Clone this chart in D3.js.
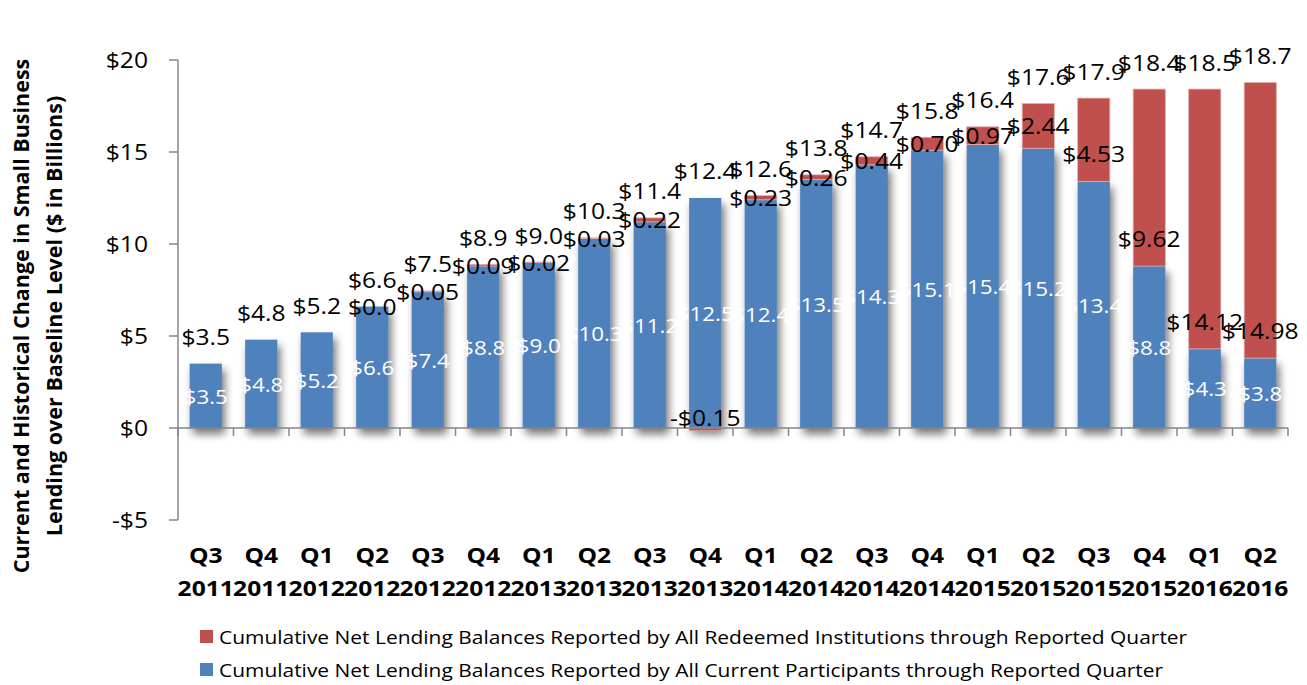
<!DOCTYPE html>
<html>
<head>
<meta charset="utf-8">
<script src="https://cdn.jsdelivr.net/npm/d3@7"></script>
<style>
  html, body { margin: 0; padding: 0; background: #fff; }
  svg { display: block; }
  text { font-family: "Open Sans", "Noto Sans", sans-serif; }
</style>
</head>
<body>
<script>
const categories = ["Q3 2011","Q4 2011","Q1 2012","Q2 2012","Q3 2012","Q4 2012","Q1 2013","Q2 2013","Q3 2013","Q4 2013",
                    "Q1 2014","Q2 2014","Q3 2014","Q4 2014","Q1 2015","Q2 2015","Q3 2015","Q4 2015","Q1 2016","Q2 2016"];
const currentParticipants = [3.5, 4.8, 5.2, 6.6, 7.4, 8.8, 9.0, 10.3, 11.2, 12.5, 12.4, 13.5, 14.3, 15.1, 15.4, 15.2, 13.4, 8.8, 4.3, 3.8];
const redeemedInstitutions = [null, null, null, 0.0, 0.05, 0.09, 0.02, 0.03, 0.22, -0.15, 0.23, 0.26, 0.44, 0.70, 0.97, 2.44, 4.53, 9.62, 14.12, 14.98];
const redeemedLabels = [null, null, null, "$0.0", "$0.05", "$0.09", "$0.02", "$0.03", "$0.22", "-$0.15", "$0.23", "$0.26", "$0.44", "$0.70", "$0.97", "$2.44", "$4.53", "$9.62", "$14.12", "$14.98"];
const totals = [3.5, 4.8, 5.2, 6.6, 7.5, 8.9, 9.0, 10.3, 11.4, 12.4, 12.6, 13.8, 14.7, 15.8, 16.4, 17.6, 17.9, 18.4, 18.5, 18.7];
const yTicks = [-5, 0, 5, 10, 15, 20];
const yTickLabels = ["-$5", "$0", "$5", "$10", "$15", "$20"];
const seriesNames = [
  "Cumulative Net Lending Balances Reported by All Redeemed Institutions through Reported Quarter",
  "Cumulative Net Lending Balances Reported by All Current Participants through Reported Quarter"
];
const yTitleLines = ["Current and Historical Change in Small Business", "Lending over Baseline Level ($ in Billions)"];

const W = 1307, H = 685;
const BLUE = "#4F81BD", RED = "#C0504D", AXIS = "#868686";
const SX = 1.12; // horizontal text stretch of the reference

const svg = d3.select("body").append("svg").attr("width", W).attr("height", H);

const defs = svg.append("defs");
const f = defs.append("filter").attr("id", "shadow")
  .attr("x", "-50%").attr("y", "-20%").attr("width", "200%").attr("height", "150%");
f.append("feDropShadow").attr("dx", 3).attr("dy", 6).attr("stdDeviation", 4)
  .attr("flood-color", "#000").attr("flood-opacity", 0.55);

const x = d3.scaleBand().domain(categories).range([178, 1288]).paddingInner(0.42).paddingOuter(0.21);
const y = d3.scaleLinear().domain([-5, 20]).range([520, 60]);

const data = categories.map((c, i) => ({
  c, i,
  blue: currentParticipants[i],
  red: redeemedInstitutions[i],
  redLabel: redeemedLabels[i],
  total: totals[i]
}));

const place = (px, py) => `translate(${px},${py}) scale(${SX},1)`;

// Blue bars with shadow
svg.append("g").selectAll("rect.blue").data(data).join("rect")
  .attr("class", "blue")
  .attr("x", d => x(d.c))
  .attr("width", x.bandwidth())
  .attr("y", d => y(d.blue))
  .attr("height", d => y(0) - y(d.blue))
  .attr("fill", BLUE)
  .attr("filter", "url(#shadow)");

// Red bars stacked
svg.append("g").selectAll("rect.red").data(data.filter(d => d.red !== null && d.red !== 0)).join("rect")
  .attr("class", "red")
  .attr("x", d => x(d.c))
  .attr("width", x.bandwidth())
  .attr("y", d => d.red >= 0 ? y(d.blue + d.red) : y(0))
  .attr("height", d => Math.abs(y(0) - y(d.red)))
  .attr("fill", RED)
  .attr("stroke", "#E6B0AE").attr("stroke-width", 0.8);

// Axes
const axisG = svg.append("g");
axisG.append("line").attr("x1", 178).attr("x2", 178).attr("y1", y(20)).attr("y2", y(-5))
  .attr("stroke", AXIS).attr("stroke-width", 1.5);
axisG.selectAll("line.ytick").data(yTicks).join("line")
  .attr("x1", 169).attr("x2", 178).attr("y1", d => y(d)).attr("y2", d => y(d))
  .attr("stroke", AXIS).attr("stroke-width", 1.5);
axisG.selectAll("text.ytick").data(yTicks).join("text")
  .attr("transform", d => place(148, y(d)))
  .attr("text-anchor", "end").attr("dominant-baseline", "central")
  .attr("font-size", 22).attr("fill", "#000")
  .text((d, i) => yTickLabels[i]);

axisG.append("line").attr("x1", 178).attr("x2", 1288).attr("y1", y(0)).attr("y2", y(0))
  .attr("stroke", AXIS).attr("stroke-width", 1.5);
const step = x.step();
const boundaries = d3.range(categories.length + 1).map(k => 178 + k * step);
axisG.selectAll("line.xtick").data(boundaries).join("line")
  .attr("x1", d => d).attr("x2", d => d).attr("y1", y(0)).attr("y2", y(0) + 8)
  .attr("stroke", AXIS).attr("stroke-width", 1.5);

const xl = axisG.selectAll("text.xlab").data(categories).join("text")
  .attr("transform", d => place(x(d) + x.bandwidth() / 2, 0))
  .attr("text-anchor", "middle")
  .attr("font-size", 22).attr("font-weight", "bold").attr("fill", "#000");
xl.append("tspan").attr("x", 0).attr("y", 563).text(d => d.split(" ")[0]);
xl.append("tspan").attr("x", 0).attr("y", 596).text(d => d.split(" ")[1]);

// Y title
const yt = svg.append("text")
  .attr("transform", "translate(0,316) rotate(-90)")
  .attr("text-anchor", "middle")
  .attr("font-size", 21.5).attr("font-weight", "bold").attr("fill", "#000");
yt.append("tspan").attr("x", 0).attr("y", 29).text(yTitleLines[0]);
yt.append("tspan").attr("x", 0).attr("y", 62).text(yTitleLines[1]);

// Labels
const cx = d => x(d.c) + x.bandwidth() / 2;
const labels = svg.append("g");
labels.selectAll("text.bl").data(data).join("text")
  .attr("transform", d => place(cx(d), y(d.blue / 2)))
  .attr("text-anchor", "middle").attr("dominant-baseline", "central")
  .attr("font-size", 20).attr("fill", "#fff")
  .text(d => "$" + d3.format(".1f")(d.blue));

labels.selectAll("text.rl").data(data.filter(d => d.red !== null)).join("text")
  .attr("transform", d => place(cx(d), d.red >= 0 ? y(d.blue + Math.min(d.red / 2, 1.5)) : y(0) - 10))
  .attr("text-anchor", "middle").attr("dominant-baseline", "central")
  .attr("font-size", 22).attr("fill", "#000")
  .text(d => d.redLabel);

labels.selectAll("text.tl").data(data).join("text")
  .attr("transform", d => place(cx(d), y(Math.max(d.blue, d.blue + (d.red || 0))) - 27))
  .attr("text-anchor", "middle").attr("dominant-baseline", "central")
  .attr("font-size", 22).attr("fill", "#000")
  .text(d => "$" + d3.format(".1f")(d.total));

// Legend
const leg = svg.append("g");
[[RED, 637], [BLUE, 670]].forEach(([col, ly], k) => {
  leg.append("rect").attr("x", 200).attr("y", ly - 7).attr("width", 13).attr("height", 13).attr("fill", col);
  leg.append("text").attr("transform", place(219, ly)).attr("dominant-baseline", "central")
    .attr("font-size", 18.7).attr("fill", "#000").text(seriesNames[k]);
});
</script>
</body>
</html>
